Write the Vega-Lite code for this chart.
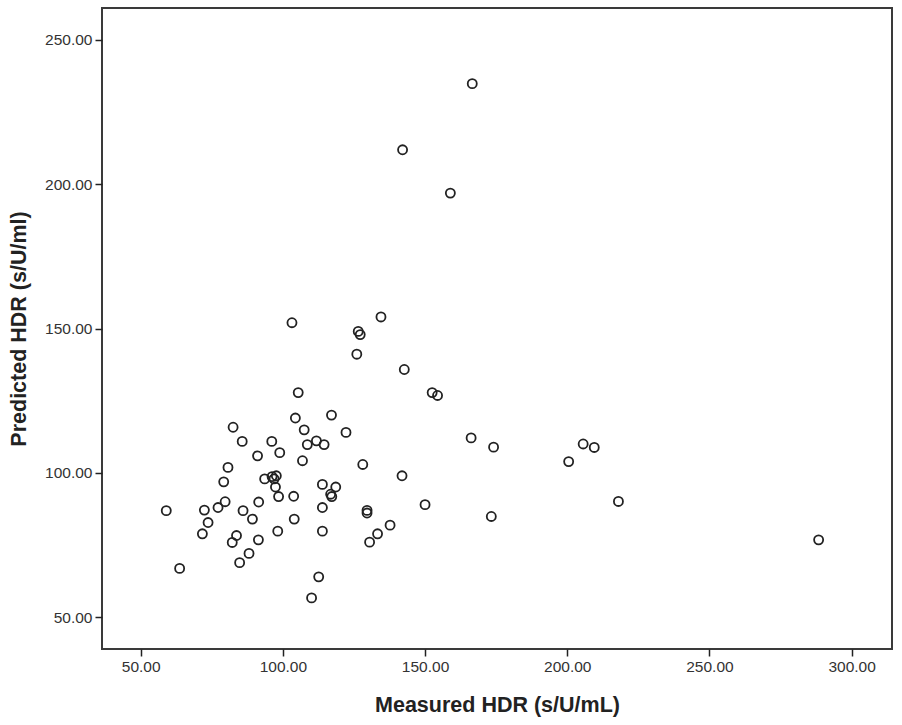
{
  "$schema": "https://vega.github.io/schema/vega-lite/v6.json",
  "description": "Scatterplot of measured vs predicted HDR.",
  "autosize": "none",
  "padding": {"left": 102, "top": 8, "right": 10, "bottom": 76},
  "width": 790,
  "height": 641,
  "background": "#ffffff",
  "config": {
    "view": {"stroke": "#3a3a3a", "strokeWidth": 2},
    "axis": {
      "grid": false,
      "domain": false,
      "labelFont": "Liberation Sans",
      "labelFontSize": 15.5,
      "labelColor": "#333333",
      "labelPadding": 3,
      "tickColor": "#222222",
      "tickWidth": 1.5,
      "tickSize": 7,
      "titleFont": "Liberation Sans",
      "titleFontWeight": "bold",
      "titleFontSize": 21.5,
      "titleColor": "#222222"
    }
  },
  "data": {
    "values": [
      {"measured": 166.6, "predicted": 234.8},
      {"measured": 142.1, "predicted": 211.9},
      {"measured": 158.9, "predicted": 196.9},
      {"measured": 103.2, "predicted": 152.0},
      {"measured": 134.5, "predicted": 154.0},
      {"measured": 126.5, "predicted": 149.0},
      {"measured": 127.2, "predicted": 147.9},
      {"measured": 126.0, "predicted": 141.1},
      {"measured": 142.7, "predicted": 135.8},
      {"measured": 105.4, "predicted": 127.8},
      {"measured": 152.5, "predicted": 127.8},
      {"measured": 154.4, "predicted": 126.8},
      {"measured": 104.4, "predicted": 119.0},
      {"measured": 117.1, "predicted": 120.0},
      {"measured": 82.5, "predicted": 115.8},
      {"measured": 107.5, "predicted": 114.9},
      {"measured": 122.2, "predicted": 114.0},
      {"measured": 85.7, "predicted": 110.9},
      {"measured": 96.1, "predicted": 110.9},
      {"measured": 108.6, "predicted": 109.8},
      {"measured": 111.8, "predicted": 111.1},
      {"measured": 114.5, "predicted": 109.8},
      {"measured": 166.2, "predicted": 112.1},
      {"measured": 174.1, "predicted": 108.9},
      {"measured": 205.6, "predicted": 110.0},
      {"measured": 209.5, "predicted": 108.8},
      {"measured": 200.5, "predicted": 103.9},
      {"measured": 91.1, "predicted": 105.9},
      {"measured": 98.9, "predicted": 107.0},
      {"measured": 106.9, "predicted": 104.2},
      {"measured": 128.1, "predicted": 102.9},
      {"measured": 80.7, "predicted": 101.9},
      {"measured": 141.9, "predicted": 99.0},
      {"measured": 79.2, "predicted": 96.9},
      {"measured": 93.6, "predicted": 97.9},
      {"measured": 96.2, "predicted": 98.7},
      {"measured": 97.7, "predicted": 99.0},
      {"measured": 96.9, "predicted": 97.9},
      {"measured": 97.4, "predicted": 95.1},
      {"measured": 98.5, "predicted": 91.8},
      {"measured": 103.8, "predicted": 91.9},
      {"measured": 113.9, "predicted": 96.0},
      {"measured": 118.6, "predicted": 95.1},
      {"measured": 116.8, "predicted": 92.6},
      {"measured": 117.2, "predicted": 91.8},
      {"measured": 79.7, "predicted": 90.0},
      {"measured": 77.2, "predicted": 88.0},
      {"measured": 72.4, "predicted": 87.1},
      {"measured": 59.0, "predicted": 86.9},
      {"measured": 86.0, "predicted": 86.9},
      {"measured": 91.5, "predicted": 89.9},
      {"measured": 89.3, "predicted": 84.0},
      {"measured": 113.9, "predicted": 88.0},
      {"measured": 129.6, "predicted": 87.0},
      {"measured": 129.6, "predicted": 86.1},
      {"measured": 150.0, "predicted": 89.0},
      {"measured": 218.0, "predicted": 90.1},
      {"measured": 73.7, "predicted": 82.8},
      {"measured": 71.7, "predicted": 78.9},
      {"measured": 104.0, "predicted": 84.0},
      {"measured": 98.2, "predicted": 79.8},
      {"measured": 113.9, "predicted": 79.8},
      {"measured": 83.7, "predicted": 78.3},
      {"measured": 82.2, "predicted": 75.9},
      {"measured": 91.4, "predicted": 76.8},
      {"measured": 88.1, "predicted": 72.1},
      {"measured": 84.8, "predicted": 68.9},
      {"measured": 63.7, "predicted": 66.9},
      {"measured": 112.6, "predicted": 64.0},
      {"measured": 110.1, "predicted": 56.7},
      {"measured": 137.7, "predicted": 81.9},
      {"measured": 133.3, "predicted": 78.9},
      {"measured": 130.5, "predicted": 76.0},
      {"measured": 173.3, "predicted": 84.9},
      {"measured": 288.4, "predicted": 76.8}
    ]
  },
  "mark": {
    "type": "point",
    "shape": "circle",
    "filled": false,
    "size": 82,
    "stroke": "#222222",
    "strokeWidth": 1.8,
    "opacity": 1
  },
  "encoding": {
    "x": {
      "field": "measured",
      "type": "quantitative",
      "title": "Measured HDR (s/U/mL)",
      "scale": {"domain": [36.4, 314.2], "nice": false, "zero": false},
      "axis": {"values": [50, 100, 150, 200, 250, 300], "format": ".2f", "titlePadding": 20}
    },
    "y": {
      "field": "predicted",
      "type": "quantitative",
      "title": "Predicted HDR (s/U/ml)",
      "scale": {"domain": [39, 261], "nice": false, "zero": false},
      "axis": {"values": [50, 100, 150, 200, 250], "format": ".2f", "titlePadding": 14}
    }
  }
}
